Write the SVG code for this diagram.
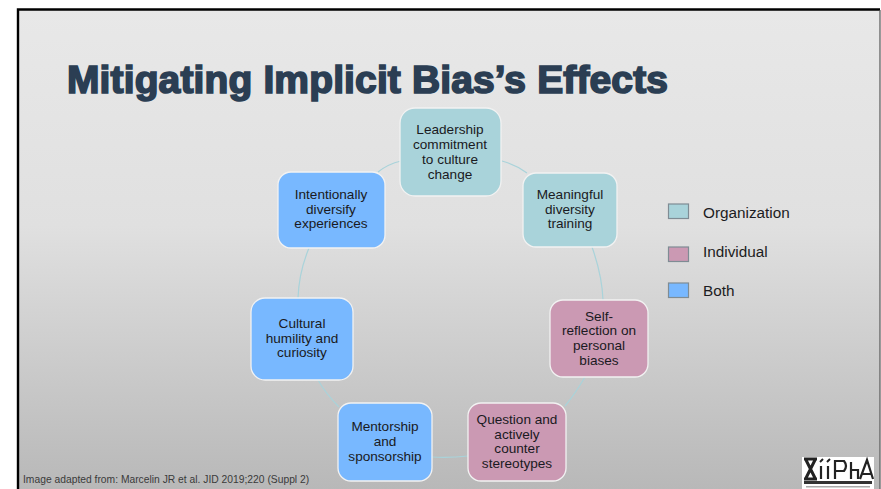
<svg xmlns="http://www.w3.org/2000/svg" width="881" height="489" viewBox="0 0 881 489">
<style>
.n{stroke:#f2f2f2;stroke-width:1.3}
.t{font-family:"Liberation Sans",Arial,sans-serif;font-size:13.6px;fill:#1a1a22;text-anchor:middle}
.o{fill:#a9d3da}.i{fill:#cb99b3}.b{fill:#78b8ff}
.c{fill:none;stroke:#a9d3da;stroke-width:1.2}
.k{stroke:#7f8c94;stroke-width:1.2}
.l{font-family:"Liberation Sans",Arial,sans-serif;font-size:15.300px;fill:#1c1c22}
</style>
<defs>
<linearGradient id="bg" x1="0" y1="0" x2="0" y2="1">
<stop offset="0" stop-color="#e8e8e8"/><stop offset="0.45" stop-color="#e0e0e0"/><stop offset="1" stop-color="#b8b8b8"/>
</linearGradient>
</defs>
<rect width="881" height="489" fill="#fff"/>
<rect x="18" y="9.5" width="862" height="480" fill="url(#bg)"/>
<path d="M18 489V9.5H880" fill="none" stroke="#000" stroke-width="2.4"/>
<path d="M880 10V489" fill="none" stroke="#555" stroke-width="1.2"/>
<text id="title" x="67" y="93" font-family="'Liberation Sans',Arial,sans-serif" font-weight="700" font-size="39" fill="#2b3e53" stroke="#2b3e53" stroke-width="1.700" textLength="601" lengthAdjust="spacing">Mitigating Implicit Bias’s Effects</text>
<g id="connectors">
<path class="c" d="M401 161Q388 164 378 172"/>
<path class="c" d="M502 161Q516 165 527 173"/>
<path class="c" d="M592 247Q602 275 603 300"/>
<path class="c" d="M585 377Q575 394 565 406"/>
<path class="c" d="M432 457Q450 458 468 456"/>
<path class="c" d="M318 380Q326 394 339 407"/>
<path class="c" d="M298 298Q299 272 309 248"/>
</g>
<g id="n1"><rect class="n o" x="400" y="108" width="101" height="88" rx="15"/><text class="t" x="450" y="134">Leadership</text><text class="t" x="450" y="149">commitment</text><text class="t" x="450" y="164">to culture</text><text class="t" x="450" y="179">change</text></g>
<g id="n2"><rect class="n o" x="523" y="173" width="94" height="74" rx="13"/><text class="t" x="570" y="199">Meaningful</text><text class="t" x="570" y="214">diversity</text><text class="t" x="570" y="228">training</text></g>
<g id="n3"><rect class="n i" x="550" y="300" width="98" height="77" rx="13"/><text class="t" x="599" y="321">Self-</text><text class="t" x="599" y="335">reflection on</text><text class="t" x="599" y="350">personal</text><text class="t" x="599" y="365">biases</text></g>
<g id="n4"><rect class="n i" x="468" y="403" width="98" height="78" rx="13"/><text class="t" x="517" y="424">Question and</text><text class="t" x="517" y="439">actively</text><text class="t" x="517" y="453">counter</text><text class="t" x="517" y="468">stereotypes</text></g>
<g id="n5"><rect class="n b" x="338" y="403" width="94" height="78" rx="13"/><text class="t" x="385" y="431">Mentorship</text><text class="t" x="385" y="446">and</text><text class="t" x="385" y="461">sponsorship</text></g>
<g id="n6"><rect class="n b" x="251" y="298" width="102" height="82" rx="14"/><text class="t" x="302" y="328">Cultural</text><text class="t" x="302" y="343">humility and</text><text class="t" x="302" y="357">curiosity</text></g>
<g id="n7"><rect class="n b" x="278" y="172" width="107" height="76" rx="13"/><text class="t" x="331" y="199">Intentionally</text><text class="t" x="331" y="214">diversify</text><text class="t" x="331" y="228">experiences</text></g>
<g id="legend">
<rect class="k o" x="668.500" y="204" width="20" height="14.500"/><text class="l" x="703" y="218">Organization</text>
<rect class="k i" x="668.500" y="247" width="20" height="14.500"/><text class="l" x="703" y="257">Individual</text>
<rect class="k b" x="668.500" y="283" width="20" height="14.500"/><text class="l" x="703" y="296">Both</text>
</g>
<text id="source" x="23" y="483" font-family="'Liberation Sans',Arial,sans-serif" font-size="10.300" fill="#3a3a3a">Image adapted from: Marcelin JR et al. JID 2019;220 (Suppl 2)</text>
<g id="logo">
<rect x="802" y="457" width="72" height="32" fill="#fff"/>
<path d="M804 459H817M804 479H817M806 460L815 478M815 460L806 478" fill="none" stroke="#222" stroke-width="3"/>
<path d="M821 466V479M828 466V479M835 460V479M835 461H844Q848 466 844 471H835M851 462V479M851 470H858V479M860 479L867 460L873 479M863 474H871" fill="none" stroke="#222" stroke-width="2.200"/>
<path d="M820 462L823 459M827 462L830 459" stroke="#222" stroke-width="2"/>
<rect x="804" y="481" width="68" height="3" fill="#333"/>
<rect x="806" y="486" width="64" height="1.500" fill="#aaa"/>
</g>
</svg>
